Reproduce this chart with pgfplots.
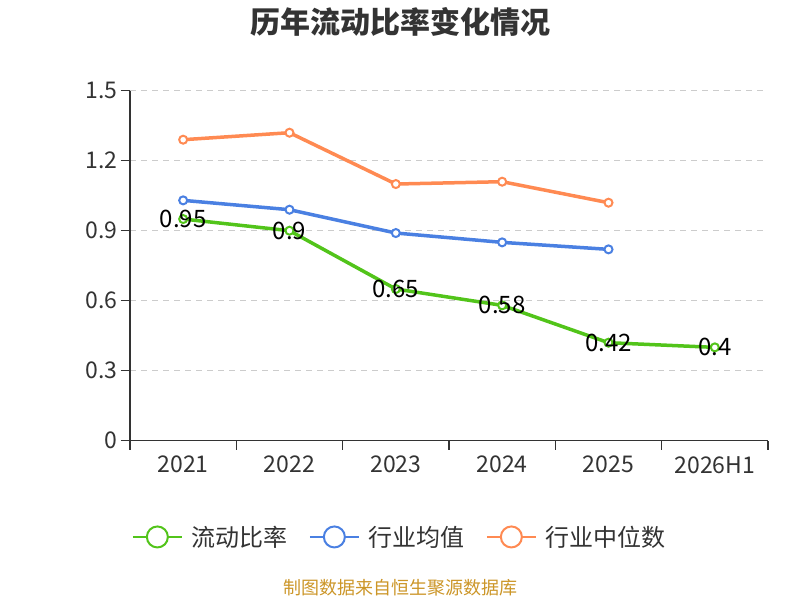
\documentclass[border=0pt]{standalone}
\usepackage{fontspec}
\setmainfont{Noto Sans CJK SC}
\usepackage{pgfplots}
\pgfplotsset{compat=1.18}
\definecolor{cgreen}{RGB}{82,196,26}
\definecolor{cblue}{RGB}{74,128,226}
\definecolor{corange}{RGB}{255,138,82}
\definecolor{ctext}{RGB}{51,51,51}
\definecolor{cgrid}{RGB}{204,204,204}
\definecolor{csrc}{RGB}{204,150,40}
\begin{document}
\begin{tikzpicture}[x=1pt,y=1pt]
\path[use as bounding box, fill=white] (0,0) rectangle (800,600);
\node[font=\fontsize{30}{33}\selectfont\bfseries, text=ctext] at (400,578) {历年流动比率变化情况};
\node[font=\fontsize{18}{21}\selectfont, text=csrc] at (400,12) {制图数据来自恒生聚源数据库};
\begin{axis}[
  at={(130pt,159.3pt)}, anchor=south west, scale only axis,
  width=638pt, height=350pt,
  xmin=-0.5, xmax=5.5, ymin=0, ymax=1.5,
  axis x line*=bottom, axis y line*=left,
  axis line style={ctext, line width=1.5pt},
  xtick={-0.5,0.5,1.5,2.5,3.5,4.5,5.5},
  x tick label as interval,
  xticklabels={2021,2022,2023,2024,2025,2026H1},
  ytick={0,0.3,0.6,0.9,1.2,1.5},
  yticklabels={0,0.3,0.6,0.9,1.2,1.5},
  tick align=outside, major tick length=9pt,
  tick style={ctext, line width=1.5pt},
  tick label style={font=\fontsize{23}{27}\selectfont, text=ctext},
  every x tick label/.append style={yshift=-3pt},
  ymajorgrids,
  grid style={cgrid, dash pattern=on 6pt off 5pt, line width=1.3pt},
  /pgf/number format/assume math mode=true,
  legend columns=3,
  legend style={at={(0.423,-0.275)}, anchor=center, draw=none, fill=none,
    font=\fontsize{24}{28}\selectfont, text=ctext,
    /tikz/every odd column/.append style={column sep=7pt},
    /tikz/every even column/.append style={column sep=19pt}},
  legend cell align=left,
  legend image code/.code={
    \draw[line width=2pt, mark=none] (0pt,0pt) -- (49pt,0pt);
    \draw[line width=2pt, fill=white] (24.5pt,0pt) circle (10.5pt);},
  every axis plot/.append style={line width=3.5pt, mark=*, mark size=4pt,
    mark options={fill=white, line width=2pt}},
]
\addplot[cgreen, nodes near coords,
  every node near coord/.append style={anchor=center, text=black,
    font=\fontsize{24}{28}\selectfont}]
  coordinates {(0,0.95)(1,0.9)(2,0.65)(3,0.58)(4,0.42)(5,0.4)};
\addlegendentry{流动比率}
\addplot[cblue] coordinates {(0,1.03)(1,0.99)(2,0.89)(3,0.85)(4,0.82)};
\addlegendentry{行业均值}
\addplot[corange] coordinates {(0,1.29)(1,1.32)(2,1.10)(3,1.11)(4,1.02)};
\addlegendentry{行业中位数}
\end{axis}
\end{tikzpicture}
\end{document}
